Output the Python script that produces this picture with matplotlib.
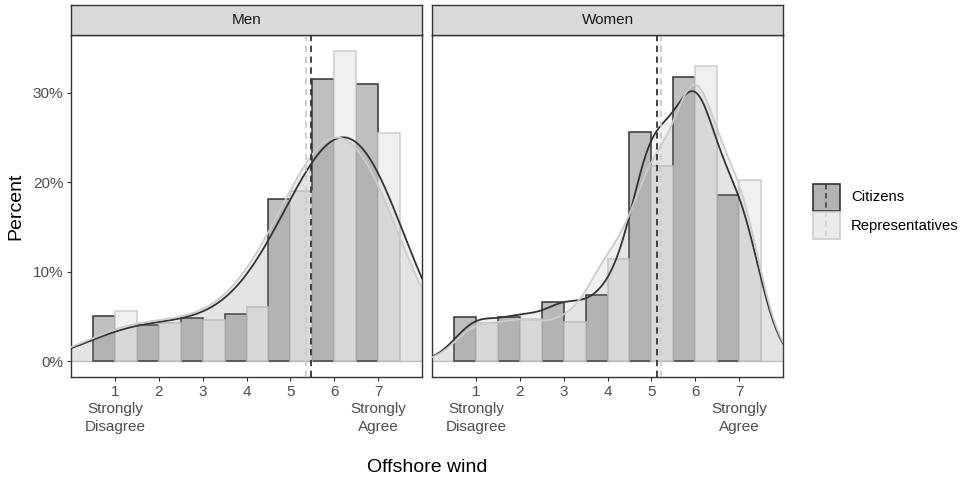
import numpy as np
import matplotlib
matplotlib.use("Agg")
import matplotlib.pyplot as plt
from matplotlib.patches import Rectangle

plt.rcParams['font.family'] = ['Liberation Sans', 'DejaVu Sans']

# Percent of answers at each point of the 7-point scale
levels = np.array([1, 2, 3, 4, 5, 6, 7])
men_citizens = [5.1, 4.1, 4.8, 5.3, 18.1, 31.5, 31.0]
men_reps = [5.6, 4.3, 4.65, 6.1, 19.0, 34.7, 25.45]
women_citizens = [4.95, 5.0, 6.6, 7.4, 25.6, 31.7, 18.6]
women_reps = [4.3, 4.7, 4.4, 11.45, 21.85, 33.0, 20.2]
tick_labels = ["1\nStrongly\nDisagree", "2", "3", "4", "5", "6", "7\nStrongly\nAgree"]
groups = ["Citizens", "Representatives"]
# kernel bandwidth per facet (from the IQR of each distribution)
bandwidth = {"Men": 1.0, "Women": 0.5}

CIT_FILL, CIT_LINE = '#bfbfbf', '#333333'
REP_FILL, REP_LINE = '#f0f0f0', '#cccccc'
DENS_FILL = '#8c8c8c'
FRAME = '#333333'
TXT = '#4d4d4d'

W, H = 967, 479
fig = plt.figure(figsize=(W / 100, H / 100), dpi=100)


def px_axes(l, t, r, b):
    return fig.add_axes([l / W, 1 - b / H, (r - l) / W, (b - t) / H])


def kde(xs, weights, bw):
    w = np.asarray(weights, dtype=float)
    z = (xs[:, None] - levels[None, :]) / bw
    return (np.exp(-0.5 * z ** 2) / np.sqrt(2 * np.pi) / bw * w[None, :]).sum(axis=1)


top = max(max(men_citizens), max(men_reps), max(women_citizens), max(women_reps))
xs = np.linspace(0, 8, 500)

panels = [("Men", men_citizens, men_reps, 71, 422),
          ("Women", women_citizens, women_reps, 432, 783)]

for i, (name, cit, rep, left, right) in enumerate(panels):
    ax = px_axes(left, 35, right, 377)
    ax.set_xlim(0, 8)
    ax.set_ylim(-0.05 * top, 1.05 * top)

    ax.axhline(0, color=REP_LINE, lw=1, zorder=1)
    ax.bar(levels - 0.25, cit, width=0.5, color=CIT_FILL, edgecolor=CIT_LINE, lw=1.1, zorder=2)
    ax.bar(levels + 0.25, rep, width=0.5, color=REP_FILL, edgecolor=REP_LINE, lw=1.1, zorder=2)

    for vals, line in ((cit, CIT_LINE), (rep, REP_LINE)):
        dens = kde(xs, vals, bandwidth[name])
        ax.fill_between(xs, 0, dens, color=DENS_FILL, alpha=0.12, lw=0, zorder=3)
        ax.plot(xs, dens, color=line, lw=1.3, zorder=4)

    # group means
    ax.axvline(np.average(levels, weights=rep), color=REP_LINE, lw=1.3, ls=(0, (3.5, 2.5)), zorder=5)
    ax.axvline(np.average(levels, weights=cit), color=CIT_LINE, lw=1.3, ls=(0, (3.5, 2.5)), zorder=5)

    ax.set_xticks(levels)
    ax.set_xticklabels(tick_labels, linespacing=1.32)
    ax.set_yticks([0, 10, 20, 30])
    if i == 0:
        ax.set_yticklabels(["0%", "10%", "20%", "30%"])
    else:
        ax.tick_params(axis='y', left=False, labelleft=False)
    ax.tick_params(length=3, width=0.8, color=FRAME, labelcolor=TXT, labelsize=11, pad=2.5)
    for s in ax.spines.values():
        s.set_color(FRAME)
        s.set_linewidth(1.0)

    # facet strip
    st = px_axes(left, 5, right, 35)
    st.set_facecolor('#d9d9d9')
    st.set_xticks([])
    st.set_yticks([])
    for s in st.spines.values():
        s.set_color(FRAME)
        s.set_linewidth(1.0)
    st.text(0.5, 0.5, name, ha='center', va='center', fontsize=11, color='#1a1a1a',
            transform=st.transAxes)

fig.text(427 / W, 1 - 467 / H, "Offshore wind", ha='center', va='center', fontsize=14)
fig.text(16 / W, 1 - 206 / H, "Percent", ha='center', va='center', rotation=90, fontsize=14)

# legend
leg = px_axes(800, 170, 967, 250)
leg.set_xlim(800, 967)
leg.set_ylim(250, 170)
leg.axis('off')
keys = [(groups[0], '#b3b3b3', CIT_LINE, 183.5), (groups[1], '#ebebeb', REP_LINE, 212)]
for label, fill, line, y0 in keys:
    leg.add_patch(Rectangle((813, y0), 27, 27, facecolor=fill, edgecolor=line, lw=1.2))
    leg.plot([826.5, 826.5], [y0, y0 + 27], color=line, lw=1.1, ls=(0, (3.5, 2.5)))
    leg.text(851, y0 + 13.5, label, ha='left', va='center', fontsize=10.7, color='black')

fig.savefig("out.png", dpi=100)
